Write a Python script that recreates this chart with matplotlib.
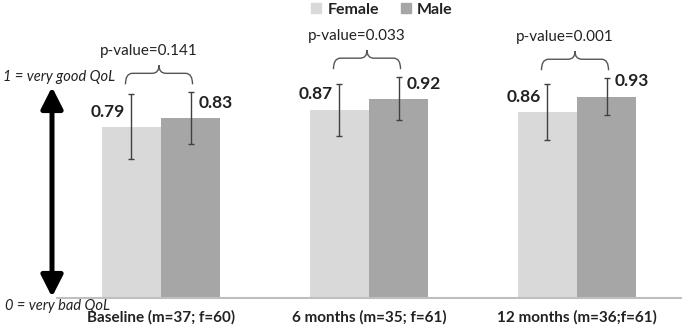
# ============================================================
#  QoL by sex: baseline / 6 months / 12 months
#  Grouped bars (Female / Male) with error bars and p-value braces
# ============================================================

import numpy as np
import matplotlib.pyplot as plt
from matplotlib.path import Path
from matplotlib.patches import PathPatch, Patch

# ===================== 資料 =====================
categories = ["Baseline (m=37; f=60)", "6 months (m=35; f=61)", "12 months (m=36;f=61)"]
female     = [0.79, 0.87, 0.86]
male       = [0.83, 0.92, 0.93]
female_err = [0.15, 0.12, 0.13]
male_err   = [0.12, 0.10, 0.085]
p_labels   = ["p-value=0.141", "p-value=0.033", "p-value=0.001"]
# ================================================

FEMALE_C = "#d9d9d9"
MALE_C   = "#a6a6a6"
ERR_C    = "#404040"

plt.rcParams['font.family'] = ['Lato', 'DejaVu Sans']

W, H, DPI = 685, 330, 100
fig = plt.figure(figsize=(W / DPI, H / DPI), dpi=DPI)

# 軸區：x 57→681 px, 底線 y=298 px
ax_l, ax_r, ax_b = 57, 681, 298
ax = fig.add_axes([ax_l / W, 1 - ax_b / H, (ax_r - ax_l) / W, ax_b / H])
PX_PER_Y = 216.5
PX_PER_X = (ax_r - ax_l) / 3.0
ax.set_xlim(-0.5, 2.5)
ax.set_ylim(0, ax_b / PX_PER_Y)

x = np.arange(len(categories))
bw = 0.284
xf = x - bw / 2
xm = x + bw / 2

ax.bar(xf, female, bw, color=FEMALE_C, label="Female", zorder=2)
ax.bar(xm, male, bw, color=MALE_C, label="Male", zorder=2)
ax.errorbar(xf, female, yerr=female_err, fmt='none', ecolor=ERR_C,
            elinewidth=1.0, capsize=2.5, capthick=1.0, zorder=3)
ax.errorbar(xm, male, yerr=male_err, fmt='none', ecolor=ERR_C,
            elinewidth=1.0, capsize=2.5, capthick=1.0, zorder=3)

# 數值標籤
for xi, v in zip(xf, female):
    ax.annotate(f"{v:.2f}", (xi, v), xytext=(-5, 11), textcoords='offset points',
                ha='right', va='center', fontsize=12.5, fontweight='bold', color='#222222')
for xi, v in zip(xm, male):
    ax.annotate(f"{v:.2f}", (xi, v), xytext=(6, 11), textcoords='offset points',
                ha='left', va='center', fontsize=12.5, fontweight='bold', color='#222222')


def draw_brace(ax, x0, x1, ytop, color='#555555'):
    """大括號：兩端向下，中間尖端向上（px 轉 data）"""
    dx = 7 / PX_PER_X
    drop = 11 / PX_PER_Y
    peak = 8 / PX_PER_Y
    xmid = (x0 + x1) / 2
    # 左半
    left = [(x0, ytop - drop), (x0, ytop), (x0 + dx, ytop),
            (xmid - dx, ytop), (xmid, ytop), (xmid, ytop + peak)]
    lcodes = [Path.MOVETO, Path.CURVE3, Path.CURVE3,
              Path.LINETO, Path.CURVE3, Path.CURVE3]
    # 右半
    right = [(xmid, ytop + peak), (xmid, ytop), (xmid + dx, ytop),
             (x1 - dx, ytop), (x1, ytop), (x1, ytop - drop)]
    rcodes = lcodes[:]
    ax.add_patch(PathPatch(Path(left + right, lcodes + rcodes), fill=False,
                           edgecolor=color, lw=1.0, zorder=4, clip_on=False))
    return xmid, ytop + peak


for i in range(len(categories)):
    top = max(female[i] + female_err[i], male[i] + male_err[i]) + 19 / PX_PER_Y
    bx0 = xf[i] - 6 / PX_PER_X
    bx1 = xm[i] + 2 / PX_PER_X
    cx, cy = draw_brace(ax, bx0, bx1, top)
    ax.text(cx - 10 / PX_PER_X, cy + 14 / PX_PER_Y, p_labels[i],
            ha='center', va='center', fontsize=11, color='#222222')

# 軸外觀
for s in ['top', 'right', 'left']:
    ax.spines[s].set_visible(False)
ax.spines['bottom'].set_color('#bfbfbf')
ax.spines['bottom'].set_linewidth(1.5)
ax.set_yticks([])
ax.set_xticks(x)
ax.set_xticklabels(categories, fontsize=11, fontweight='bold', color='#222222')
ax.tick_params(axis='x', length=0, pad=9)

# 左側雙向箭頭與說明
ax.annotate('', xy=(52, H - 87), xytext=(52, H - 297),
            xycoords='figure pixels', textcoords='figure pixels',
            arrowprops=dict(arrowstyle='<|-|>,head_width=0.33,head_length=0.65',
                            mutation_scale=20, lw=3.6, color='black',
                            shrinkA=0, shrinkB=0))
fig.text(3 / W, 1 - 77 / H, "1 = very good QoL", ha='left', va='center',
         fontsize=10.5, style='italic', color='#222222')
fig.text(5 / W, 1 - 306 / H, "0 = very bad QoL", ha='left', va='center',
         fontsize=10.5, style='italic', color='#222222')

# 圖例
handles = [Patch(color=FEMALE_C), Patch(color=MALE_C)]
leg = fig.legend(handles, ["Female", "Male"], loc='center', ncol=2,
                 bbox_to_anchor=(382 / W, 1 - 10 / H), frameon=False,
                 handlelength=0.6, handleheight=0.6, handletextpad=0.4,
                 columnspacing=1.4, prop=dict(size=11.5, weight='bold'))
for t in leg.get_texts():
    t.set_color('#222222')

plt.savefig("out.png", dpi=DPI)
